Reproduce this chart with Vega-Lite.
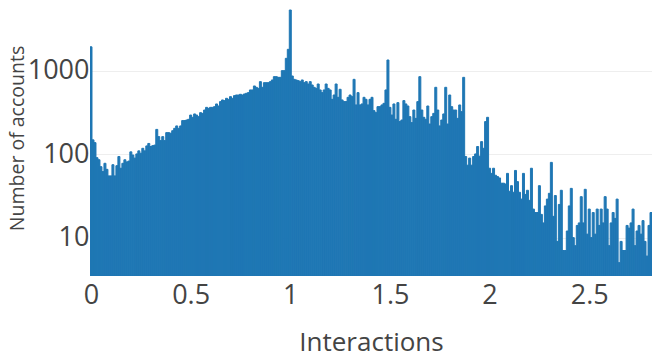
{
"$schema": "https://vega.github.io/schema/vega-lite/v6.json",
"width": 562, "height": 276,
"autosize": {"type": "none"},
"padding": {"left": 90, "top": 0, "right": 0, "bottom": 84},
"background": "white",
"config": {"view": {"stroke": null}, "font": "Open Sans"},
"data": {"values": [
{"a":-0.005,"b":0.005,"n":1950},{"a":0.005,"b":0.015,"n":149},{"a":0.015,"b":0.025,"n":138},{"a":0.025,"b":0.035,"n":91},{"a":0.035,"b":0.045,"n":86},
{"a":0.045,"b":0.055,"n":71},{"a":0.055,"b":0.065,"n":62},{"a":0.065,"b":0.075,"n":78},{"a":0.075,"b":0.085,"n":66},{"a":0.085,"b":0.095,"n":55},
{"a":0.095,"b":0.105,"n":55},{"a":0.105,"b":0.115,"n":75},{"a":0.115,"b":0.125,"n":55},{"a":0.125,"b":0.135,"n":73},{"a":0.135,"b":0.145,"n":94},
{"a":0.145,"b":0.155,"n":68},{"a":0.155,"b":0.165,"n":78},{"a":0.165,"b":0.175,"n":86},{"a":0.175,"b":0.185,"n":81},{"a":0.185,"b":0.195,"n":83},
{"a":0.195,"b":0.205,"n":107},{"a":0.205,"b":0.215,"n":98},{"a":0.215,"b":0.225,"n":90},{"a":0.225,"b":0.235,"n":101},{"a":0.235,"b":0.245,"n":110},
{"a":0.245,"b":0.255,"n":103},{"a":0.255,"b":0.265,"n":118},{"a":0.265,"b":0.275,"n":110},{"a":0.275,"b":0.285,"n":126},{"a":0.285,"b":0.295,"n":135},
{"a":0.295,"b":0.305,"n":124},{"a":0.305,"b":0.315,"n":127},{"a":0.315,"b":0.325,"n":129},{"a":0.325,"b":0.335,"n":199},{"a":0.335,"b":0.345,"n":163},
{"a":0.345,"b":0.355,"n":146},{"a":0.355,"b":0.365,"n":163},{"a":0.365,"b":0.375,"n":146},{"a":0.375,"b":0.385,"n":182},{"a":0.385,"b":0.395,"n":182},
{"a":0.395,"b":0.405,"n":179},{"a":0.405,"b":0.415,"n":192},{"a":0.415,"b":0.425,"n":205},{"a":0.425,"b":0.435,"n":219},{"a":0.435,"b":0.445,"n":205},
{"a":0.445,"b":0.455,"n":219},{"a":0.455,"b":0.465,"n":254},{"a":0.465,"b":0.475,"n":254},{"a":0.475,"b":0.485,"n":258},{"a":0.485,"b":0.495,"n":263},
{"a":0.495,"b":0.505,"n":296},{"a":0.505,"b":0.515,"n":278},{"a":0.515,"b":0.525,"n":305},{"a":0.525,"b":0.535,"n":296},{"a":0.535,"b":0.545,"n":283},
{"a":0.545,"b":0.555,"n":316},{"a":0.555,"b":0.565,"n":310},{"a":0.565,"b":0.575,"n":340},{"a":0.575,"b":0.585,"n":366},{"a":0.585,"b":0.595,"n":356},
{"a":0.595,"b":0.605,"n":366},{"a":0.605,"b":0.615,"n":366},{"a":0.615,"b":0.625,"n":373},{"a":0.625,"b":0.635,"n":402},{"a":0.635,"b":0.645,"n":380},
{"a":0.645,"b":0.655,"n":429},{"a":0.655,"b":0.665,"n":449},{"a":0.665,"b":0.675,"n":441},{"a":0.675,"b":0.685,"n":470},{"a":0.685,"b":0.695,"n":457},
{"a":0.695,"b":0.705,"n":492},{"a":0.705,"b":0.715,"n":470},{"a":0.715,"b":0.725,"n":506},{"a":0.725,"b":0.735,"n":515},{"a":0.735,"b":0.745,"n":515},
{"a":0.745,"b":0.755,"n":525},{"a":0.755,"b":0.765,"n":515},{"a":0.765,"b":0.775,"n":530},{"a":0.775,"b":0.785,"n":540},{"a":0.785,"b":0.795,"n":550},
{"a":0.795,"b":0.805,"n":592},{"a":0.805,"b":0.815,"n":592},{"a":0.815,"b":0.825,"n":661},{"a":0.825,"b":0.835,"n":637},{"a":0.835,"b":0.845,"n":619},
{"a":0.845,"b":0.855,"n":745},{"a":0.855,"b":0.865,"n":637},{"a":0.865,"b":0.875,"n":724},{"a":0.875,"b":0.885,"n":724},{"a":0.885,"b":0.895,"n":724},
{"a":0.895,"b":0.905,"n":745},{"a":0.905,"b":0.915,"n":780},{"a":0.915,"b":0.925,"n":855},{"a":0.925,"b":0.935,"n":855},{"a":0.935,"b":0.945,"n":839},
{"a":0.945,"b":0.955,"n":839},{"a":0.955,"b":0.965,"n":1009},{"a":0.965,"b":0.975,"n":1009},{"a":0.975,"b":0.985,"n":1419},{"a":0.985,"b":0.995,"n":1820},
{"a":0.995,"b":1.005,"n":5395},{"a":1.005,"b":1.015,"n":871},{"a":1.015,"b":1.025,"n":794},{"a":1.025,"b":1.035,"n":780},{"a":1.035,"b":1.045,"n":766},
{"a":1.045,"b":1.055,"n":745},{"a":1.055,"b":1.065,"n":780},{"a":1.065,"b":1.075,"n":724},{"a":1.075,"b":1.085,"n":745},{"a":1.085,"b":1.095,"n":698},
{"a":1.095,"b":1.105,"n":745},{"a":1.105,"b":1.115,"n":679},{"a":1.115,"b":1.125,"n":637},{"a":1.125,"b":1.135,"n":619},{"a":1.135,"b":1.145,"n":698},
{"a":1.145,"b":1.155,"n":592},{"a":1.155,"b":1.165,"n":550},{"a":1.165,"b":1.175,"n":592},{"a":1.175,"b":1.185,"n":698},{"a":1.185,"b":1.195,"n":619},
{"a":1.195,"b":1.205,"n":592},{"a":1.205,"b":1.215,"n":457},{"a":1.215,"b":1.225,"n":515},{"a":1.225,"b":1.235,"n":698},{"a":1.235,"b":1.245,"n":483},
{"a":1.245,"b":1.255,"n":603},{"a":1.255,"b":1.265,"n":449},{"a":1.265,"b":1.275,"n":429},{"a":1.275,"b":1.285,"n":429},{"a":1.285,"b":1.295,"n":483},
{"a":1.295,"b":1.305,"n":515},{"a":1.305,"b":1.315,"n":492},{"a":1.315,"b":1.325,"n":794},{"a":1.325,"b":1.335,"n":391},{"a":1.335,"b":1.345,"n":550},
{"a":1.345,"b":1.355,"n":391},{"a":1.355,"b":1.365,"n":402},{"a":1.365,"b":1.375,"n":483},{"a":1.375,"b":1.385,"n":457},{"a":1.385,"b":1.395,"n":391},
{"a":1.395,"b":1.405,"n":457},{"a":1.405,"b":1.415,"n":483},{"a":1.415,"b":1.425,"n":334},{"a":1.425,"b":1.435,"n":316},{"a":1.435,"b":1.445,"n":373},
{"a":1.445,"b":1.455,"n":373},{"a":1.455,"b":1.465,"n":391},{"a":1.465,"b":1.475,"n":409},{"a":1.475,"b":1.485,"n":592},{"a":1.485,"b":1.495,"n":1355},
{"a":1.495,"b":1.505,"n":366},{"a":1.505,"b":1.515,"n":296},{"a":1.515,"b":1.525,"n":402},{"a":1.525,"b":1.535,"n":263},{"a":1.535,"b":1.545,"n":417},
{"a":1.545,"b":1.555,"n":247},{"a":1.555,"b":1.565,"n":258},{"a":1.565,"b":1.575,"n":441},{"a":1.575,"b":1.585,"n":402},{"a":1.585,"b":1.595,"n":380},
{"a":1.595,"b":1.605,"n":283},{"a":1.605,"b":1.615,"n":240},{"a":1.615,"b":1.625,"n":340},{"a":1.625,"b":1.635,"n":270},{"a":1.635,"b":1.645,"n":429},
{"a":1.645,"b":1.655,"n":855},{"a":1.655,"b":1.665,"n":340},{"a":1.665,"b":1.675,"n":278},{"a":1.675,"b":1.685,"n":263},{"a":1.685,"b":1.695,"n":380},
{"a":1.695,"b":1.705,"n":231},{"a":1.705,"b":1.715,"n":283},{"a":1.715,"b":1.725,"n":310},{"a":1.725,"b":1.735,"n":637},{"a":1.735,"b":1.745,"n":340},
{"a":1.745,"b":1.755,"n":219},{"a":1.755,"b":1.765,"n":258},{"a":1.765,"b":1.775,"n":305},{"a":1.775,"b":1.785,"n":637},{"a":1.785,"b":1.795,"n":231},
{"a":1.795,"b":1.805,"n":515},{"a":1.805,"b":1.815,"n":373},{"a":1.815,"b":1.825,"n":340},{"a":1.825,"b":1.835,"n":340},{"a":1.835,"b":1.845,"n":270},
{"a":1.845,"b":1.855,"n":391},{"a":1.855,"b":1.865,"n":325},{"a":1.865,"b":1.875,"n":839},{"a":1.875,"b":1.885,"n":94},{"a":1.885,"b":1.895,"n":74},
{"a":1.895,"b":1.905,"n":90},{"a":1.905,"b":1.915,"n":74},{"a":1.915,"b":1.925,"n":94},{"a":1.925,"b":1.935,"n":101},{"a":1.935,"b":1.945,"n":124},
{"a":1.945,"b":1.955,"n":95},{"a":1.955,"b":1.965,"n":142},{"a":1.965,"b":1.975,"n":118},{"a":1.975,"b":1.985,"n":247},{"a":1.985,"b":1.995,"n":278},
{"a":1.995,"b":2.005,"n":68},{"a":2.005,"b":2.015,"n":59},{"a":2.015,"b":2.025,"n":68},{"a":2.025,"b":2.035,"n":56},{"a":2.035,"b":2.045,"n":54},
{"a":2.045,"b":2.055,"n":52},{"a":2.055,"b":2.065,"n":45},{"a":2.065,"b":2.075,"n":45},{"a":2.075,"b":2.085,"n":44},{"a":2.085,"b":2.095,"n":59},
{"a":2.095,"b":2.105,"n":36},{"a":2.105,"b":2.115,"n":42},{"a":2.115,"b":2.125,"n":35},{"a":2.125,"b":2.135,"n":64},{"a":2.135,"b":2.145,"n":47},
{"a":2.145,"b":2.155,"n":35},{"a":2.155,"b":2.165,"n":29},{"a":2.165,"b":2.175,"n":59},{"a":2.175,"b":2.185,"n":33},{"a":2.185,"b":2.195,"n":37},
{"a":2.195,"b":2.205,"n":28},{"a":2.205,"b":2.215,"n":68},{"a":2.215,"b":2.225,"n":22},{"a":2.225,"b":2.235,"n":20},{"a":2.235,"b":2.245,"n":20},
{"a":2.245,"b":2.255,"n":42},{"a":2.255,"b":2.265,"n":19},{"a":2.265,"b":2.275,"n":15},{"a":2.275,"b":2.285,"n":24},{"a":2.285,"b":2.295,"n":29},
{"a":2.295,"b":2.305,"n":34},{"a":2.305,"b":2.315,"n":80},{"a":2.315,"b":2.325,"n":18},{"a":2.325,"b":2.335,"n":32},{"a":2.335,"b":2.345,"n":9},
{"a":2.345,"b":2.355,"n":25},{"a":2.355,"b":2.365,"n":37},{"a":2.365,"b":2.375,"n":7},{"a":2.375,"b":2.385,"n":7},{"a":2.385,"b":2.395,"n":12},
{"a":2.395,"b":2.405,"n":24},{"a":2.405,"b":2.415,"n":39},{"a":2.415,"b":2.425,"n":10},{"a":2.425,"b":2.435,"n":8},{"a":2.435,"b":2.445,"n":14},
{"a":2.445,"b":2.455,"n":15},{"a":2.455,"b":2.465,"n":31},{"a":2.465,"b":2.475,"n":15},{"a":2.475,"b":2.485,"n":38},{"a":2.485,"b":2.495,"n":11},
{"a":2.495,"b":2.505,"n":22},{"a":2.505,"b":2.515,"n":10},{"a":2.515,"b":2.525,"n":20},{"a":2.525,"b":2.535,"n":11},{"a":2.535,"b":2.545,"n":22},
{"a":2.545,"b":2.555,"n":14},{"a":2.555,"b":2.565,"n":22},{"a":2.565,"b":2.575,"n":15},{"a":2.575,"b":2.585,"n":31},{"a":2.585,"b":2.595,"n":22},
{"a":2.595,"b":2.605,"n":8},{"a":2.605,"b":2.615,"n":15},{"a":2.615,"b":2.625,"n":20},{"a":2.625,"b":2.635,"n":17},{"a":2.635,"b":2.645,"n":29},
{"a":2.645,"b":2.655,"n":5},{"a":2.655,"b":2.665,"n":9},{"a":2.665,"b":2.675,"n":7},{"a":2.675,"b":2.685,"n":7},{"a":2.685,"b":2.695,"n":14},
{"a":2.695,"b":2.705,"n":13},{"a":2.705,"b":2.715,"n":15},{"a":2.715,"b":2.725,"n":22},{"a":2.725,"b":2.735,"n":8},{"a":2.735,"b":2.745,"n":12},
{"a":2.745,"b":2.755,"n":14},{"a":2.755,"b":2.765,"n":11},{"a":2.765,"b":2.775,"n":16},{"a":2.775,"b":2.785,"n":9},{"a":2.785,"b":2.795,"n":6},
{"a":2.795,"b":2.805,"n":14},{"a":2.805,"b":2.815,"n":20}
]},
"mark": {"type": "bar", "color": "#1f77b4", "stroke": "#1f77b4", "strokeWidth": 1, "clip": true, "orient": "vertical"},
"encoding": {
  "x": {"field": "a", "type": "quantitative",
        "scale": {"domain": [-0.005, 2.815], "nice": false, "zero": false, "padding": 0},
        "axis": {"values": [0, 0.5, 1, 1.5, 2, 2.5], "format": "~g", "grid": false, "ticks": false, "domain": false,
                 "labelFontSize": 27, "labelColor": "#444", "labelPadding": 6, "labelFlush": false, "labelOverlap": false,
                 "title": "Interactions", "titleFontSize": 26, "titleFontWeight": "normal", "titleColor": "#444", "titlePadding": 21}},
  "x2": {"field": "b"},
  "y": {"field": "n", "type": "quantitative",
        "scale": {"type": "log", "domain": [3.46, 7115], "nice": false},
        "axis": {"values": [10, 100, 1000], "format": "d", "grid": true, "gridColor": "#eeeeee", "ticks": false, "domain": false,
                 "labelFontSize": 27, "labelColor": "#444", "labelPadding": 1,
                 "title": "Number of accounts", "titleFontSize": 19.5, "titleFontWeight": "normal", "titleColor": "#444", "titlePadding": 0}},
  "y2": {"datum": 3.46}
}
}
